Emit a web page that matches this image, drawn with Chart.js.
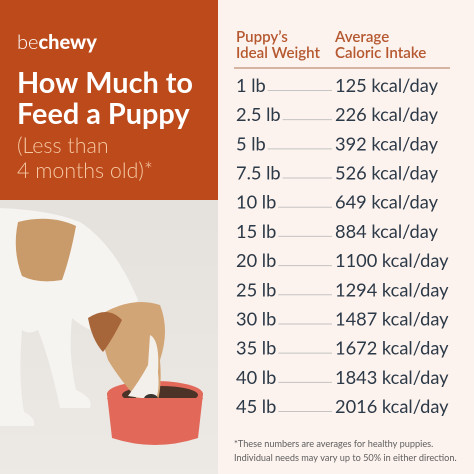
<!DOCTYPE html>
<html>
<head>
<meta charset="utf-8">
<script src="https://cdn.jsdelivr.net/npm/chart.js"></script>
<style>
  html, body { margin: 0; padding: 0; background: #fcf2ee; }
  canvas { display: block; }
</style>
</head>
<body>
<canvas id="puppyChart" width="474" height="474"></canvas>
<script>

// data
const weights = ['1 lb', '2.5 lb', '5 lb', '7.5 lb', '10 lb', '15 lb', '20 lb', '25 lb', '30 lb', '35 lb', '40 lb', '45 lb']
const calories = [125, 226, 392, 526, 649, 884, 1100, 1294, 1487, 1672, 1843, 2016]
const unit = 'kcal/day'

const headerWeight = ['Puppy\u2019s', 'Ideal Weight']
const headerCalories = ['Average', 'Caloric Intake']
const titleLines = ['How Much to', 'Feed a Puppy']
const subtitleLines = ['(Less than', '4 months old)*']
const footnoteLines = ['*These numbers are averages for healthy puppies.', 'Individual needs may vary up to 50% in either direction.']

const orange = '#bd4a1b'
const headerColor = '#b5582f'
const rowColor = '#2c3947'

// pick a font size so the text spans the given width
function fitSize(ctx, text, weight, family, width) {
    ctx.font = weight + ' 20px ' + family
    return 20 * width / ctx.measureText(text).width
}

function drawPhoto(ctx) {
    ctx.save()
    ctx.beginPath()
    ctx.rect(0, 200, 218, 274)
    ctx.clip()

    let bg = ctx.createLinearGradient(0, 200, 0, 474)
    bg.addColorStop(0, '#e5e2de')
    bg.addColorStop(1, '#edeae6')
    ctx.fillStyle = bg
    ctx.fillRect(0, 200, 218, 274)

    // dog body, neck and legs
    ctx.fillStyle = '#f6f4f1'
    ctx.beginPath()
    ctx.moveTo(0, 208)
    ctx.quadraticCurveTo(50, 210, 80, 222)
    ctx.quadraticCurveTo(115, 245, 138, 300)
    ctx.lineTo(112, 338)
    ctx.quadraticCurveTo(85, 330, 72, 318)
    ctx.quadraticCurveTo(68, 355, 76, 390)
    ctx.quadraticCurveTo(94, 398, 90, 408)
    ctx.lineTo(60, 408)
    ctx.quadraticCurveTo(50, 360, 38, 330)
    ctx.quadraticCurveTo(28, 335, 22, 330)
    ctx.quadraticCurveTo(18, 380, 24, 412)
    ctx.quadraticCurveTo(36, 418, 34, 426)
    ctx.lineTo(0, 426)
    ctx.closePath()
    ctx.fill()

    // tan patch on the back
    ctx.fillStyle = '#c99b6a'
    ctx.beginPath()
    ctx.moveTo(18, 222)
    ctx.quadraticCurveTo(50, 214, 76, 226)
    ctx.quadraticCurveTo(70, 258, 62, 280)
    ctx.quadraticCurveTo(38, 284, 22, 276)
    ctx.quadraticCurveTo(12, 250, 18, 222)
    ctx.closePath()
    ctx.fill()

    // bowl
    ctx.fillStyle = '#e2695a'
    ctx.beginPath()
    ctx.moveTo(107, 394)
    ctx.lineTo(112, 438)
    ctx.quadraticCurveTo(155, 452, 198, 438)
    ctx.lineTo(203, 394)
    ctx.closePath()
    ctx.fill()
    ctx.beginPath()
    ctx.ellipse(155, 394, 48, 13, 0, 0, Math.PI * 2)
    ctx.fill()
    ctx.fillStyle = '#4b3427'
    ctx.beginPath()
    ctx.ellipse(160, 395, 38, 9, 0, 0, Math.PI * 2)
    ctx.fill()

    // head
    ctx.fillStyle = '#d2a576'
    ctx.beginPath()
    ctx.moveTo(95, 318)
    ctx.quadraticCurveTo(130, 295, 160, 305)
    ctx.quadraticCurveTo(170, 330, 160, 360)
    ctx.quadraticCurveTo(162, 385, 158, 400)
    ctx.lineTo(140, 402)
    ctx.quadraticCurveTo(120, 380, 108, 360)
    ctx.closePath()
    ctx.fill()
    ctx.fillStyle = '#f3efea'
    ctx.beginPath()
    ctx.moveTo(150, 335)
    ctx.quadraticCurveTo(160, 340, 158, 372)
    ctx.quadraticCurveTo(160, 392, 155, 400)
    ctx.lineTo(128, 396)
    ctx.quadraticCurveTo(140, 380, 148, 365)
    ctx.closePath()
    ctx.fill()
    ctx.fillStyle = '#3b3531'
    ctx.beginPath()
    ctx.ellipse(151, 399, 7, 5, 0, 0, Math.PI * 2)
    ctx.fill()
    ctx.fillStyle = '#a7663a'
    ctx.beginPath()
    ctx.moveTo(88, 318)
    ctx.quadraticCurveTo(108, 305, 122, 320)
    ctx.quadraticCurveTo(112, 340, 103, 352)
    ctx.quadraticCurveTo(92, 340, 88, 318)
    ctx.closePath()
    ctx.fill()

    // front lip of bowl over the snout
    ctx.fillStyle = '#e2695a'
    ctx.beginPath()
    ctx.ellipse(155, 398, 48, 9, 0, 0, Math.PI)
    ctx.fill()

    ctx.restore()
}

const infographic = {
    id: 'infographic',
    beforeDraw(chart) {
        const ctx = chart.ctx
        ctx.save()
        ctx.fillStyle = '#fcf2ee'
        ctx.fillRect(0, 0, 474, 474)
        ctx.fillStyle = orange
        ctx.fillRect(0, 0, 218, 200)
        drawPhoto(ctx)

        // logo
        ctx.textBaseline = 'alphabetic'
        ctx.fillStyle = '#ffffff'
        ctx.font = '300 20px Lato'
        ctx.fillText('be', 17, 49)
        let beWidth = ctx.measureText('be').width
        ctx.font = '900 20px Lato'
        ctx.fillText('chewy', 17 + beWidth, 49)

        // title
        let size = fitSize(ctx, titleLines[0], 'bold', 'Lato', 176)
        ctx.font = 'bold ' + size + 'px Lato'
        ctx.fillText(titleLines[0], 17, 93)
        ctx.fillText(titleLines[1], 17, 124)

        ctx.fillStyle = '#f6c9a4'
        let subSize = fitSize(ctx, subtitleLines[1], '300', 'Lato', 136)
        ctx.font = '300 ' + subSize + 'px Lato'
        ctx.fillText(subtitleLines[0], 17, 153)
        ctx.fillText(subtitleLines[1], 17, 178)

        // table header
        ctx.fillStyle = headerColor
        let hSize = fitSize(ctx, headerWeight[1], '600', 'Lato', 84)
        ctx.font = '600 ' + hSize + 'px Lato'
        ctx.fillText(headerWeight[0], 236, 42)
        ctx.fillText(headerWeight[1], 236, 58)
        ctx.fillText(headerCalories[0], 335, 42)
        ctx.fillText(headerCalories[1], 335, 58)

        ctx.strokeStyle = '#c9a088'
        ctx.lineWidth = 1.5
        ctx.beginPath()
        ctx.moveTo(234, 68)
        ctx.lineTo(450, 68)
        ctx.stroke()

        // footnote
        ctx.fillStyle = '#5f5f5f'
        let fSize = fitSize(ctx, footnoteLines[1], '400', 'Lato', 223)
        ctx.font = '400 ' + fSize + 'px Lato'
        ctx.fillText(footnoteLines[0], 234, 447)
        ctx.fillText(footnoteLines[1], 234, 461)
        ctx.restore()
    },
    afterDatasetsDraw(chart) {
        const ctx = chart.ctx
        const meta = chart.getDatasetMeta(0)
        ctx.save()
        ctx.textBaseline = 'alphabetic'
        let size = fitSize(ctx, calories[0] + ' ' + unit, '400', 'Lato', 103)
        ctx.font = '400 ' + size + 'px Lato'
        meta.data.forEach(function(bar, i) {
            let y = bar.y + 6
            ctx.fillStyle = rowColor
            ctx.fillText(weights[i], 236, y)
            ctx.fillText(calories[i] + ' ' + unit, 335, y)
            let end = 236 + ctx.measureText(weights[i]).width + 2
            ctx.strokeStyle = '#c4c4c4'
            ctx.lineWidth = 1
            ctx.beginPath()
            ctx.moveTo(end, y - 1.5)
            ctx.lineTo(332, y - 1.5)
            ctx.stroke()
        })
        ctx.restore()
    }
}

const canvas = document.getElementById('puppyChart')
new Chart(canvas, {
    type: 'bar',
    data: {
        labels: weights,
        datasets: [{
            label: 'Average caloric intake',
            data: calories,
            backgroundColor: 'rgba(0,0,0,0)',
            borderWidth: 0
        }]
    },
    options: {
        indexAxis: 'y',
        responsive: false,
        animation: false,
        devicePixelRatio: 2,
        layout: {
            padding: { left: 236, right: 24, top: 71.4, bottom: 52.4 }
        },
        plugins: {
            legend: { display: false },
            tooltip: { enabled: false }
        },
        scales: {
            x: { display: false, beginAtZero: true },
            y: { display: false }
        }
    },
    plugins: [infographic]
})
</script>
</body>
</html>
